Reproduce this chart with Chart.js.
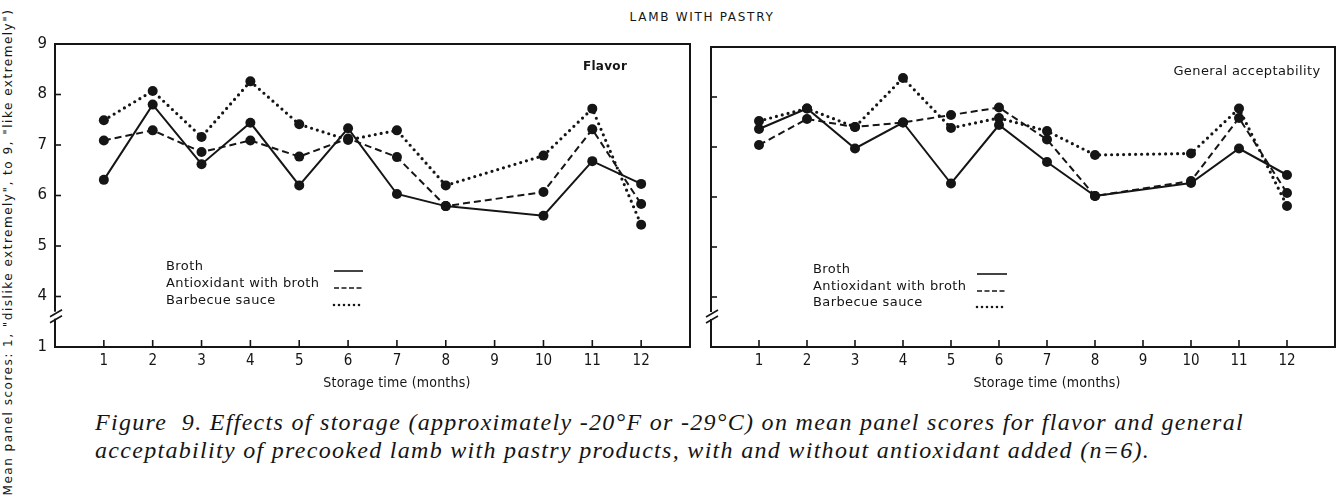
<!DOCTYPE html>
<html>
<head>
<meta charset="utf-8">
<title>Lamb with pastry</title>
<script src="https://cdn.jsdelivr.net/npm/chart.js@4.4.0/dist/chart.umd.min.js"></script>
<style>
  body { margin: 0; width: 1341px; height: 501px; background: #fff; position: relative; overflow: hidden; color: #151515; font-family: 'DejaVu Sans', sans-serif; }
  canvas { position: absolute; top: 0; }
  #flavorChart { left: 0; }
  #accChart { left: 700px; }
  .title { position: absolute; top: 10px; left: 0; width: 1404px; text-align: center; font-size: 12px; letter-spacing: 1.7px; }
  .ylabel { position: absolute; left: 8px; top: 252px; transform: translate(-50%, -50%) rotate(-90deg); white-space: nowrap; font-size: 12px; letter-spacing: 1.5px; }
  .caption { position: absolute; left: 95px; top: 408px; font-family: 'Liberation Serif', serif; font-style: italic; font-size: 24px; line-height: 28px; letter-spacing: 1.3px; white-space: nowrap; }
</style>
</head>
<body>
<div class="title">LAMB WITH PASTRY</div>
<div class="ylabel">Mean panel scores: 1, "dislike extremely", to 9, "like extremely")</div>
<canvas id="flavorChart" width="700" height="400"></canvas>
<canvas id="accChart" width="641" height="400"></canvas>
<div class="caption">Figure&nbsp; 9. Effects of storage (approximately -20°F or -29°C) on mean panel scores for flavor and general<br>acceptability of precooked lamb with pastry products, with and without antioxidant added (n=6).</div>

<script>
// ---- data ----
const months = [1, 2, 3, 4, 5, 6, 7, 8, 10, 11, 12];
const seriesNames = ['Broth', 'Antioxidant with broth', 'Barbecue sauce'];

// Flavor panel
const flavorBroth   = [6.31, 7.80, 6.62, 7.44, 6.20, 7.33, 6.03, 5.79, 5.60, 6.68, 6.23];
const flavorAntiox  = [7.09, 7.29, 6.86, 7.09, 6.77, 7.13, 6.76, 5.79, 6.07, 7.31, 5.83];
const flavorBbq     = [7.49, 8.07, 7.16, 8.26, 7.41, 7.10, 7.29, 6.20, 6.79, 7.72, 5.42];

// General acceptability panel
const accBroth  = [7.36, 7.77, 6.97, 7.49, 6.27, 7.44, 6.70, 6.02, 6.28, 6.97, 6.44];
const accAntiox = [7.04, 7.56, 7.40, 7.49, 7.64, 7.79, 7.15, 6.02, 6.32, 7.58, 6.08];
const accBbq    = [7.52, 7.77, 7.40, 8.38, 7.38, 7.58, 7.32, 6.84, 6.87, 7.77, 5.82];

// axis: score 1 is drawn one step below 4 (broken axis)
const yTickValues = [4, 5, 6, 7, 8, 9];
const yBottom = 3;          // position where the "1" label sits
const monthTicks = [1, 2, 3, 4, 5, 6, 7, 8, 9, 10, 11, 12];

const INK = '#151515';
const lineStyles = [
  { dash: [], cap: 'butt', width: 2 },
  { dash: [7, 4], cap: 'butt', width: 2 },
  { dash: [0, 6], cap: 'round', width: 3.2 }
];

// draws the frame, inward ticks, axis break, legend, panel label and axis title
const panelDecor = {
  id: 'panelDecor',
  afterDraw(chart, args, opts) {
    const { ctx, chartArea: a, scales: { x, y } } = chart;
    const seg = (x1, y1, x2, y2) => { ctx.beginPath(); ctx.moveTo(x1, y1); ctx.lineTo(x2, y2); ctx.stroke(); };
    ctx.save();
    ctx.strokeStyle = INK;
    ctx.fillStyle = INK;
    ctx.lineWidth = 2;

    // top and right of the box
    ctx.beginPath();
    ctx.moveTo(a.left, a.top);
    ctx.lineTo(a.right, a.top);
    ctx.lineTo(a.right, a.bottom);
    ctx.stroke();

    ctx.lineWidth = 1.6;
    yTickValues.forEach(v => {
      const py = y.getPixelForValue(v);
      seg(a.left, py, a.left + 6, py);
    });
    monthTicks.forEach(m => {
      const px = x.getPixelForValue(m);
      seg(px, a.bottom, px, a.bottom - 7);
    });

    // axis break
    const by = y.getPixelForValue(3.62);
    ctx.fillStyle = '#fff';
    ctx.fillRect(a.left - 3, by - 4, 6, 7);
    ctx.fillStyle = INK;
    seg(a.left - 5, by + 1, a.left + 7, by - 6);
    seg(a.left - 5, by + 7, a.left + 7, by);

    // legend
    ctx.font = '13px "DejaVu Sans", sans-serif';
    ctx.letterSpacing = '0.4px';
    ctx.textBaseline = 'middle';
    ctx.textAlign = 'left';
    seriesNames.forEach((name, i) => {
      const ty = opts.legendY[i];
      ctx.fillText(name, a.left + opts.legendX, ty);
      const st = lineStyles[i];
      ctx.lineWidth = i === 2 ? 2.6 : 1.6;
      ctx.setLineDash(i === 1 ? [5, 2.5] : (i === 2 ? [0, 5] : []));
      ctx.lineCap = st.cap;
      seg(a.left + opts.sampleX[0], ty + 4, a.left + opts.sampleX[1], ty + 4);
    });
    ctx.setLineDash([]);
    ctx.lineCap = 'butt';

    // panel label
    ctx.font = opts.labelFont;
    ctx.letterSpacing = opts.labelSpacing;
    ctx.textAlign = 'center';
    ctx.fillText(opts.label, opts.labelPos[0], opts.labelPos[1]);

    // x axis title centred on month 7
    ctx.font = '14px "DejaVu Sans Condensed", "DejaVu Sans", sans-serif';
    ctx.letterSpacing = '0.2px';
    ctx.fillText('Storage time (months)', x.getPixelForValue(7), a.bottom + 36);
    ctx.restore();
  }
};

function makePanel(canvasId, values, panel) {
  return new Chart(document.getElementById(canvasId), {
    type: 'line',
    data: {
      datasets: values.map((vals, i) => ({
        label: seriesNames[i],
        data: months.map((m, k) => ({ x: m, y: vals[k] })),
        borderColor: INK,
        borderWidth: lineStyles[i].width,
        borderDash: lineStyles[i].dash,
        borderCapStyle: lineStyles[i].cap,
        pointRadius: 5,
        pointBackgroundColor: INK,
        pointBorderWidth: 0,
        tension: 0,
        fill: false
      }))
    },
    options: {
      responsive: false,
      animation: false,
      devicePixelRatio: 1,
      layout: { padding: { left: 0, right: panel.padRight, top: panel.padTop, bottom: 0 } },
      plugins: {
        legend: { display: false },
        tooltip: { enabled: false },
        panelDecor: panel.decor
      },
      scales: {
        x: {
          type: 'linear',
          min: 0,
          max: 13,
          afterFit: s => { s.height = 53; },
          grid: { display: false, drawTicks: false },
          border: { display: true, color: INK, width: 2 },
          ticks: {
            stepSize: 1,
            autoSkip: false,
            maxRotation: 0,
            padding: 5,
            color: INK,
            font: { family: 'DejaVu Sans Condensed, DejaVu Sans, sans-serif', size: 15 },
            callback: v => (v >= 1 && v <= 12) ? String(v) : ''
          }
        },
        y: {
          min: yBottom,
          max: 9,
          afterFit: s => { s.width = panel.yWidth; },
          grid: { display: false, drawTicks: false },
          border: { display: true, color: INK, width: 2 },
          ticks: {
            display: panel.showYLabels,
            stepSize: 1,
            padding: 8,
            color: INK,
            font: { family: 'DejaVu Sans, sans-serif', size: 15 },
            callback: v => v === yBottom ? '1' : String(v)
          }
        }
      }
    },
    plugins: [panelDecor]
  });
}

makePanel('flavorChart', [flavorBroth, flavorAntiox, flavorBbq], {
  padRight: 10, padTop: 44, yWidth: 55, showYLabels: true,
  decor: {
    legendX: 111, legendY: [267, 284, 301], sampleX: [279, 308],
    label: 'Flavor', labelPos: [605, 67], labelFont: 'bold 12px "DejaVu Sans", sans-serif', labelSpacing: '0.3px'
  }
});

makePanel('accChart', [accBroth, accAntiox, accBbq], {
  padRight: 6, padTop: 47, yWidth: 11, showYLabels: false,
  decor: {
    legendX: 102, legendY: [270, 287, 303], sampleX: [266, 296],
    label: 'General acceptability', labelPos: [547, 72], labelFont: '13px "DejaVu Sans", sans-serif', labelSpacing: '0.4px'
  }
});
</script>
</body>
</html>
